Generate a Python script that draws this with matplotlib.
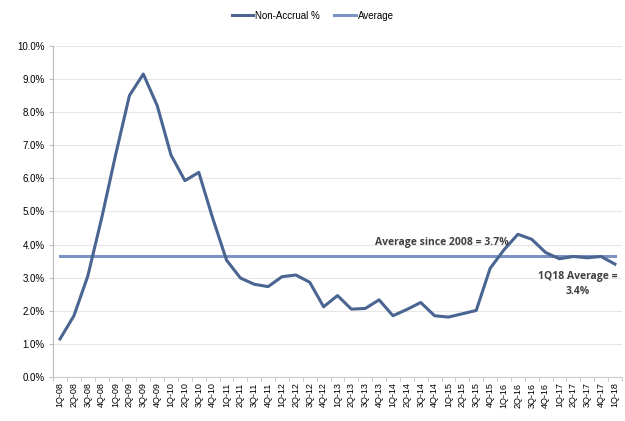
import matplotlib
matplotlib.use("Agg")
import matplotlib.pyplot as plt
import numpy as np

quarters = []
for y in range(8, 19):
    for q in range(1, 5):
        quarters.append(f"{q}Q-{y:02d}")
quarters = quarters[:41]

non_accrual = [1.15, 1.85, 3.05, 4.8, 6.7, 8.5, 9.15, 8.2, 6.7, 5.93, 6.18, 4.8,
               3.53, 2.99, 2.8, 2.73, 3.03, 3.08, 2.86, 2.12, 2.46, 2.05, 2.07, 2.33,
               1.85, 2.04, 2.25, 1.85, 1.81, 1.91, 2.01, 3.28, 3.84, 4.31, 4.16, 3.76,
               3.57, 3.64, 3.6, 3.64, 3.41]
average = 3.66
yticks = np.arange(0, 10.01, 1.0)

fig = plt.figure(figsize=(6.25, 4.21), dpi=100)
ax = fig.add_axes([0.085, 0.1045, 0.91, 0.7865])

x = np.arange(len(quarters))
ax.plot(x, non_accrual, color="#4a6591", lw=2.2, label="Non-Accrual %", zorder=3)
ax.plot(x, [average] * len(x), color="#7b93c3", lw=2.2, label="Average", zorder=2)

ax.set_xlim(-0.5, len(quarters) - 0.5)
ax.set_ylim(0, 10)
ax.set_yticks(yticks)
ax.set_yticklabels([f"{v:.1f}%" for v in yticks], fontsize=7, family="Liberation Sans")
ax.set_xticks(x)
ax.set_xticklabels(quarters, rotation=90, fontsize=6.5, family="Liberation Sans")
ax.set_xticks(np.arange(-0.5, len(quarters), 1), minor=True)
ax.tick_params(axis="x", which="major", length=0, pad=4)
ax.tick_params(axis="x", which="minor", length=3, color="#bbbbbb")
ax.tick_params(axis="y", length=3, color="#bbbbbb", pad=3)

ax.grid(axis="y", color="#e6e6e6", lw=0.8)
ax.set_axisbelow(True)
for s in ["top", "right"]:
    ax.spines[s].set_visible(False)
ax.spines["left"].set_color("#bbbbbb")
ax.spines["bottom"].set_color("#cccccc")

ax.text(27.5, 4.06, "Average since 2008 = 3.7%", fontsize=7.5, fontweight="bold",
        family="Open Sans", color="#404040", ha="center", va="center")
ax.text(37.3, 2.8, "1Q18 Average =\n3.4%", fontsize=7.5, fontweight="bold",
        family="Open Sans", color="#404040", ha="center", va="center", linespacing=1.45)

fig.legend(loc="upper center", bbox_to_anchor=(0.5, 0.995), ncol=2, frameon=False,
           prop={"family": "Liberation Sans", "size": 7}, handlelength=2.2,
           columnspacing=1.5, handletextpad=0.2)

fig.savefig("out.png", dpi=100)
